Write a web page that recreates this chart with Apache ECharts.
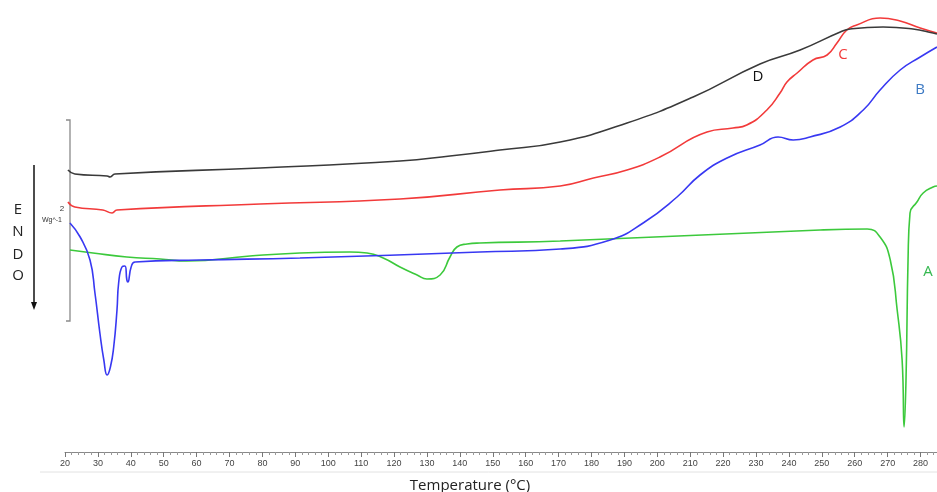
<!DOCTYPE html>
<html>
<head>
<meta charset="utf-8">
<script src="https://cdn.jsdelivr.net/npm/echarts@6/dist/echarts.min.js"></script>
<style>html,body{margin:0;padding:0;background:#fff}#c{width:937px;height:492px}</style>
</head>
<body>
<div id="c"></div>
<script>
// Temperature (°C) and heat-flow (W/g, arbitrary offset)
var tempA = [21.5, 28.5, 38.8, 48.9, 57.1, 76.2, 91.4, 106.6, 111.8, 116.7, 121.8, 127.0, 130.0, 134.0, 137.0, 139.1, 142.2, 146.1, 170.5, 249.5, 263.8, 267.7, 270.8, 272.9, 274.4, 275.0, 275.6, 276.2, 276.8, 278.9, 280.8, 283.8, 285.0];
var valA  = [2.02, 1.99, 1.95, 1.93, 1.91, 1.96, 1.99, 2.00, 1.99, 1.94, 1.85, 1.77, 1.73, 1.77, 1.95, 2.05, 2.08, 2.09, 2.11, 2.22, 2.23, 2.15, 1.92, 1.42, 0.92, 0.25, 0.75, 1.92, 2.39, 2.50, 2.59, 2.65, 2.66];

var tempB = [21.5, 24.6, 27.6, 29.1, 30.6, 31.8, 32.8, 33.8, 34.8, 35.8, 36.3, 37.3, 38.2, 38.8, 39.1, 40.1, 41.3, 61.0, 91.4, 146.1, 170.5, 185.7, 195.7, 206.0, 213.0, 221.2, 231.2, 236.7, 241.3, 246.4, 255.6, 262.6, 267.7, 273.8, 279.9, 285.0];
var valB  = [2.29, 2.15, 1.92, 1.59, 1.19, 0.92, 0.77, 0.85, 1.05, 1.42, 1.69, 1.85, 1.86, 1.72, 1.70, 1.85, 1.90, 1.92, 1.94, 2.00, 2.03, 2.12, 2.29, 2.55, 2.77, 2.94, 3.07, 3.15, 3.12, 3.15, 3.25, 3.42, 3.62, 3.82, 3.95, 4.05];

var tempC = [20.9, 23.0, 31.5, 34.3, 35.8, 79.3, 121.8, 152.2, 170.5, 180.6, 190.8, 200.8, 215.1, 223.0, 227.2, 233.3, 237.3, 239.4, 242.5, 247.3, 251.6, 254.6, 257.6, 260.6, 267.7, 273.8, 279.9, 285.0];
var valC  = [2.50, 2.45, 2.42, 2.39, 2.42, 2.48, 2.53, 2.62, 2.66, 2.74, 2.82, 2.95, 3.20, 3.24, 3.27, 3.42, 3.59, 3.70, 3.79, 3.92, 3.97, 4.09, 4.22, 4.27, 4.34, 4.31, 4.24, 4.19];

var tempD = [20.9, 23.0, 32.8, 33.7, 35.2, 79.3, 121.8, 137.0, 152.2, 170.5, 190.8, 210.9, 231.2, 243.4, 255.6, 258.6, 268.6, 277.7, 283.8, 285.0];
var valD  = [2.82, 2.78, 2.76, 2.75, 2.78, 2.84, 2.91, 2.96, 3.02, 3.10, 3.29, 3.55, 3.88, 4.02, 4.20, 4.23, 4.25, 4.23, 4.19, 4.18];

var xTicks = [20, 30, 40, 50, 60, 70, 80, 90, 100, 110, 120, 130, 140, 150, 160, 170, 180, 190, 200, 210, 220, 230, 240, 250, 260, 270, 280];

function zip(t, v) { return t.map(function (x, i) { return [x, v[i]]; }); }

var chart = echarts.init(document.getElementById('c'), null, { renderer: 'canvas' });

function mk(name, t, v, color) {
  return {
    name: name, type: 'line', data: zip(t, v), showSymbol: false,
    smooth: 0.5,
    lineStyle: { color: color, width: 1.6 }, itemStyle: { color: color },
    silent: true, animation: false
  };
}

chart.setOption({
  animation: false,
  backgroundColor: '#fff',
  grid: { left: 65, right: 0, top: 2, bottom: 40, containLabel: false },
  xAxis: {
    type: 'value', min: 20, max: 285, interval: 10,
    axisLine: { show: true, lineStyle: { color: '#888', width: 1 } },
    axisTick: { show: true, length: 5, lineStyle: { color: '#777' } },
    minorTick: { show: true, splitNumber: 5, length: 3, lineStyle: { color: '#999' } },
    splitLine: { show: false },
    axisLabel: {
      margin: 7, fontSize: 9, color: '#444', fontFamily: 'Liberation Sans',
      showMaxLabel: false,
      formatter: function (v) { return xTicks.indexOf(v) >= 0 ? String(v) : ''; }
    }
  },
  yAxis: { type: 'value', min: 0, max: 4.5, show: false, splitLine: { show: false } },
  series: [
    mk('A', tempA, valA, '#3cc93c'),
    mk('B', tempB, valB, '#3838f2'),
    mk('C', tempC, valC, '#f23a3a'),
    mk('D', tempD, valD, '#3a3a3a')
  ],
  graphic: [
    { type: 'line', shape: { x1: 40, y1: 472, x2: 937, y2: 472 }, style: { stroke: '#e2e2e2', lineWidth: 1 }, silent: true },
    { type: 'text', style: { x: 470, y: 486, text: 'Temperature (°C)', fill: '#222', font: '15px "Open Sans"', align: 'center', verticalAlign: 'middle' }, silent: true },
    { type: 'polyline', shape: { points: [[66, 120], [70, 120], [70, 321], [66, 321]] }, style: { stroke: '#8a8a8a', lineWidth: 1.3, fill: null }, silent: true },
    { type: 'text', style: { x: 62, y: 209, text: '2', fill: '#333', font: '8px "Liberation Sans"', align: 'center', verticalAlign: 'middle' }, silent: true },
    { type: 'text', style: { x: 52, y: 220, text: 'Wg^-1', fill: '#333', font: '7px "Liberation Sans"', align: 'center', verticalAlign: 'middle' }, silent: true },
    { type: 'line', shape: { x1: 34, y1: 165, x2: 34, y2: 304 }, style: { stroke: '#111', lineWidth: 1.5 }, silent: true },
    { type: 'polygon', shape: { points: [[31, 302], [37, 302], [34, 310]] }, style: { fill: '#111' }, silent: true },
    { type: 'text', style: { x: 18, y: 210, text: 'E', fill: '#222', font: '15px "Open Sans"', align: 'center', verticalAlign: 'middle' }, silent: true },
    { type: 'text', style: { x: 18, y: 232, text: 'N', fill: '#222', font: '15px "Open Sans"', align: 'center', verticalAlign: 'middle' }, silent: true },
    { type: 'text', style: { x: 18, y: 255, text: 'D', fill: '#222', font: '15px "Open Sans"', align: 'center', verticalAlign: 'middle' }, silent: true },
    { type: 'text', style: { x: 18, y: 276, text: 'O', fill: '#222', font: '15px "Open Sans"', align: 'center', verticalAlign: 'middle' }, silent: true },
    { type: 'text', style: { x: 758, y: 77, text: 'D', fill: '#111', font: '15px "Open Sans"', align: 'center', verticalAlign: 'middle' }, silent: true },
    { type: 'text', style: { x: 843, y: 55, text: 'C', fill: '#f23a3a', font: '15px "Open Sans"', align: 'center', verticalAlign: 'middle' }, silent: true },
    { type: 'text', style: { x: 920, y: 90, text: 'B', fill: '#3d7ac4', font: '15px "Open Sans"', align: 'center', verticalAlign: 'middle' }, silent: true },
    { type: 'text', style: { x: 928, y: 272, text: 'A', fill: '#35b850', font: '15px "Open Sans"', align: 'center', verticalAlign: 'middle' }, silent: true }
  ]
});
</script>
</body>
</html>
